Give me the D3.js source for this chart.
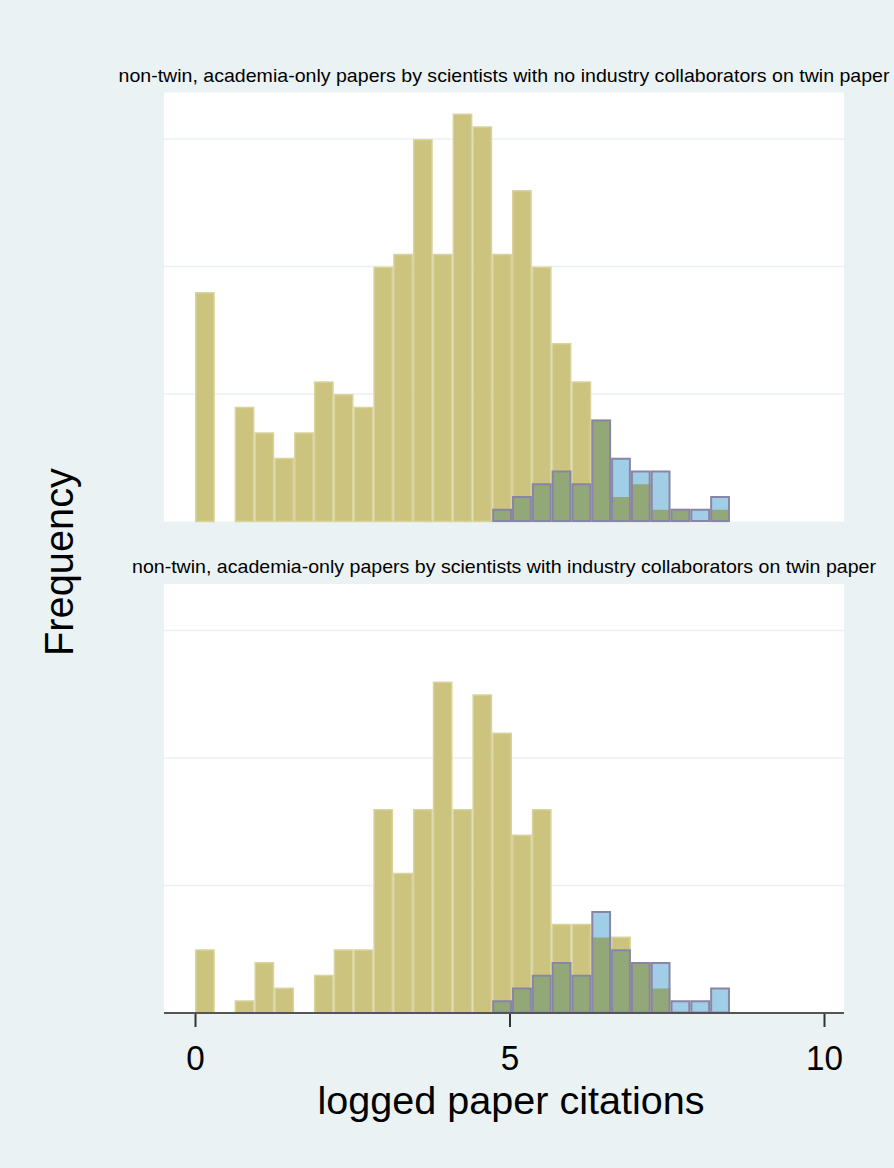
<!DOCTYPE html>
<html>
<head>
<meta charset="utf-8">
<script src="https://cdn.jsdelivr.net/npm/d3@7"></script>
<style>
  html, body { margin: 0; padding: 0; background: #EAF2F3; }
  svg { display: block; }
  text { font-family: "Liberation Sans", Arial, sans-serif; fill: #000; }
</style>
</head>
<body>
<svg id="chart" width="894" height="1168"></svg>
<script>
// ---- data ----
const binStart = 0;
const binWidth = 0.315;
const panelTitles = [
  "non-twin, academia-only papers by scientists with no industry collaborators on twin paper",
  "non-twin, academia-only papers by scientists with industry collaborators on twin paper"
];
// frequencies per bin (27 bins), non-twin academia-only papers
const nonTwinNoIndustry = [18, 0, 9, 7, 5, 7, 11, 10, 9, 20, 21, 30, 21, 32, 31, 21, 26, 20, 14, 11, 8, 2, 3, 1, 1, 0, 1];
const nonTwinIndustry   = [5, 0, 1, 4, 2, 0, 3, 5, 5, 16, 11, 16, 26, 16, 25, 22, 14, 16, 7, 7, 6, 6, 4, 2, 0, 0, 0];
// twin papers (same in both panels)
const twinPapers        = [0, 0, 0, 0, 0, 0, 0, 0, 0, 0, 0, 0, 0, 0, 0, 1, 2, 3, 4, 3, 8, 5, 4, 4, 1, 1, 2];
const xTicks = [0, 5, 10];
const yGrid = [10, 20, 30];
const xTitle = "logged paper citations";
const yTitle = "Frequency";

// ---- layout ----
const svg = d3.select("#chart");
const W = 894, H = 1168;
svg.append("rect").attr("width", W).attr("height", H).attr("fill", "#EAF2F3");

const plotX0 = 164, plotX1 = 844;
const x = d3.scaleLinear().domain([0, 10]).range([195, 824]);
const panels = [
  { top: 92.5, bottom: 521.5, tan: nonTwinNoIndustry, title: panelTitles[0], titleY: 81.5, titleW: 771, axis: false },
  { top: 584, bottom: 1013, tan: nonTwinIndustry, title: panelTitles[1], titleY: 573, titleW: 744, axis: true }
];

const tanFill = "#CBC37E", tanStroke = "#D9D39E";
const blueFill = "#A0CEE6", blueStroke = "#8985A6";
const greenFill = "#93A878";

panels.forEach(p => {
  const y = d3.scaleLinear().domain([0, (p.bottom - p.top) / 12.75]).range([p.bottom, p.top]);
  const g = svg.append("g");
  g.append("rect").attr("x", plotX0).attr("y", p.top)
    .attr("width", plotX1 - plotX0).attr("height", p.bottom - p.top).attr("fill", "#fff");
  // grid
  g.selectAll("line.grid").data(yGrid).join("line")
    .attr("x1", plotX0).attr("x2", plotX1)
    .attr("y1", d => y(d)).attr("y2", d => y(d))
    .attr("stroke", "#EAF2F3").attr("stroke-width", 1.6);

  const bins = p.tan.map((v, i) => ({
    i, x0: binStart + i * binWidth, x1: binStart + (i + 1) * binWidth,
    tan: v, blue: twinPapers[i]
  }));
  const inset = 0.75;
  // tan bars
  g.selectAll("rect.tan").data(bins.filter(d => d.tan > 0)).join("rect")
    .attr("x", d => x(d.x0) + inset).attr("width", d => x(d.x1) - x(d.x0) - 2 * inset)
    .attr("y", d => y(d.tan) + inset).attr("height", d => y(0) - y(d.tan) - inset)
    .attr("fill", tanFill).attr("stroke", tanStroke).attr("stroke-width", 1.5);
  // twin bars (blue)
  const bb = bins.filter(d => d.blue > 0);
  g.selectAll("rect.blue").data(bb).join("rect")
    .attr("x", d => x(d.x0) + 1).attr("width", d => x(d.x1) - x(d.x0) - 2)
    .attr("y", d => y(d.blue) + 1).attr("height", d => y(0) - y(d.blue) - 1)
    .attr("fill", blueFill);
  // overlap (green)
  g.selectAll("rect.green").data(bb.filter(d => d.tan > 0)).join("rect")
    .attr("x", d => x(d.x0) + 1).attr("width", d => x(d.x1) - x(d.x0) - 2)
    .attr("y", d => y(Math.min(d.tan, d.blue)) + 1).attr("height", d => y(0) - y(Math.min(d.tan, d.blue)) - 1)
    .attr("fill", greenFill);
  // twin outlines
  g.selectAll("rect.blueO").data(bb).join("rect")
    .attr("x", d => x(d.x0) + 1).attr("width", d => x(d.x1) - x(d.x0) - 2)
    .attr("y", d => y(d.blue) + 1).attr("height", d => y(0) - y(d.blue) - 1.5)
    .attr("fill", "none").attr("stroke", blueStroke).attr("stroke-width", 2);

  // title
  const t = svg.append("text").attr("x", (plotX0 + plotX1) / 2).attr("y", p.titleY)
    .attr("text-anchor", "middle").attr("font-size", 19).text(p.title);
  t.attr("textLength", p.titleW).attr("lengthAdjust", "spacingAndGlyphs");

  if (p.axis) {
    const ax = svg.append("g").attr("transform", `translate(0,${p.bottom})`)
      .call(d3.axisBottom(x).tickValues(xTicks).tickSize(14).tickPadding(18).tickFormat(d3.format("d")));
    ax.select(".domain").remove();
    ax.append("line").attr("x1", plotX0).attr("x2", plotX1).attr("y1", 0).attr("y2", 0)
      .attr("stroke", "#555").attr("stroke-width", 2);
    ax.selectAll(".tick line").attr("stroke", "#333").attr("stroke-width", 2);
    ax.selectAll(".tick text").attr("font-size", 35).attr("fill", "#000")
      .attr("font-family", "Liberation Sans, Arial, sans-serif")
      .attr("dy", 0).attr("y", 57)
      .each(function() {
        const n = this.textContent.length;
        d3.select(this).attr("textLength", n * 18.5).attr("lengthAdjust", "spacingAndGlyphs");
      });
  }
});

// axis titles
svg.append("text").attr("x", 511).attr("y", 1114).attr("text-anchor", "middle")
  .attr("font-size", 38).attr("textLength", 387).attr("lengthAdjust", "spacingAndGlyphs").text(xTitle);
svg.append("text").attr("transform", "translate(73,562) rotate(-90)").attr("text-anchor", "middle")
  .attr("font-size", 40).attr("textLength", 188).attr("lengthAdjust", "spacingAndGlyphs").text(yTitle);
</script>
</body>
</html>
